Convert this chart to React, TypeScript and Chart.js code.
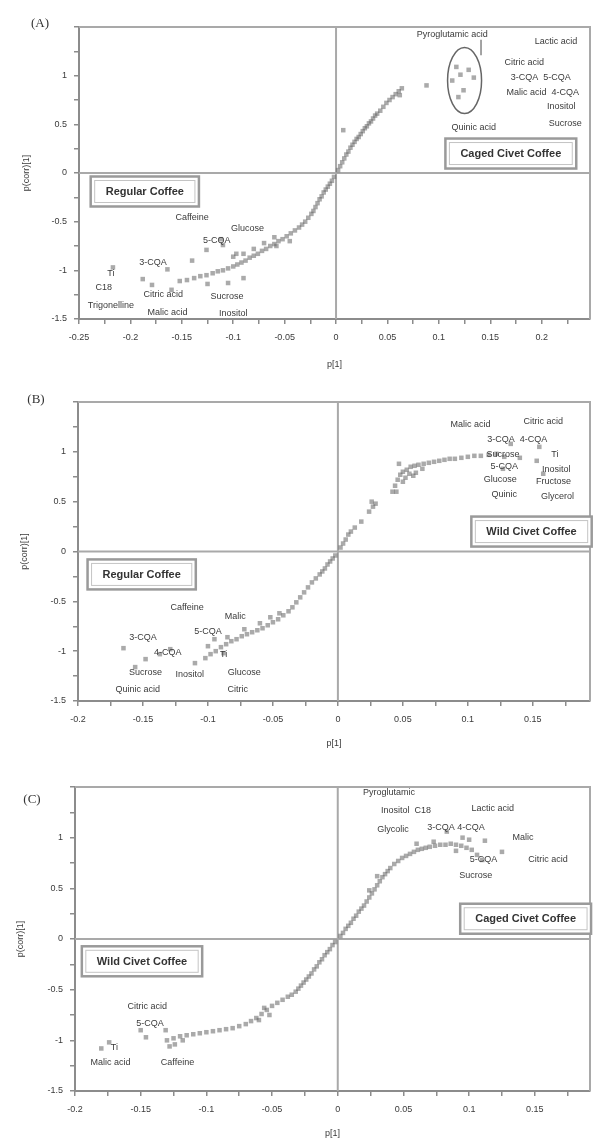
import React, { useEffect, useRef } from "react";
import { Chart, registerables } from "chart.js";
Chart.register(...registerables);

type Pt = [number, number];
type Lbl = [string, number, number];

// ---------- Panel A: Regular vs Caged Civet ----------
const panelALoadings: Pt[] = [
  [0.002, 0.03], [0.004, 0.07], [0.006, 0.11], [0.008, 0.15], [0.01, 0.19], [0.012, 0.22],
  [0.014, 0.26], [0.016, 0.29], [0.018, 0.32], [0.02, 0.35], [0.022, 0.37], [0.024, 0.4],
  [0.026, 0.43], [0.028, 0.46], [0.03, 0.48], [0.032, 0.51], [0.034, 0.53], [0.036, 0.56],
  [0.038, 0.59], [0.04, 0.61], [0.043, 0.64], [0.046, 0.68], [0.049, 0.72], [0.052, 0.75],
  [0.055, 0.78], [0.058, 0.81], [0.061, 0.84], [0.064, 0.87], [0.062, 0.8], [0.007, 0.44],
  [0.088, 0.9], [0.113, 0.95], [0.117, 1.09], [0.121, 1.01], [0.124, 0.85], [0.129, 1.06],
  [0.119, 0.78], [0.134, 0.98],
  [-0.002, -0.04], [-0.004, -0.08], [-0.006, -0.11], [-0.008, -0.14], [-0.01, -0.17],
  [-0.012, -0.2], [-0.014, -0.24], [-0.016, -0.27], [-0.018, -0.31], [-0.02, -0.35],
  [-0.022, -0.39], [-0.024, -0.42], [-0.027, -0.46], [-0.03, -0.5], [-0.033, -0.53],
  [-0.036, -0.56], [-0.04, -0.59], [-0.044, -0.62], [-0.048, -0.65], [-0.052, -0.68],
  [-0.056, -0.7], [-0.06, -0.73], [-0.064, -0.75], [-0.068, -0.78], [-0.072, -0.8],
  [-0.076, -0.83], [-0.08, -0.85], [-0.084, -0.87], [-0.088, -0.9], [-0.092, -0.92],
  [-0.096, -0.94], [-0.1, -0.96], [-0.105, -0.98], [-0.11, -1.0], [-0.115, -1.01],
  [-0.12, -1.03], [-0.126, -1.05], [-0.132, -1.06], [-0.138, -1.08], [-0.145, -1.1],
  [-0.152, -1.11], [-0.06, -0.66], [-0.07, -0.72], [-0.08, -0.78], [-0.09, -0.83],
  [-0.1, -0.86], [-0.11, -0.74], [-0.112, -0.68], [-0.126, -0.79], [-0.097, -0.83],
  [-0.14, -0.9], [-0.164, -0.99], [-0.179, -1.15], [-0.188, -1.09], [-0.217, -0.97],
  [-0.125, -1.14], [-0.105, -1.13], [-0.09, -1.08], [-0.16, -1.2], [-0.058, -0.75],
  [-0.045, -0.7],
];
const panelALabels: Lbl[] = [
  ["Pyroglutamic acid", 0.113, 1.42], ["Lactic acid", 0.214, 1.35],
  ["Citric acid", 0.183, 1.14], ["3-CQA  5-CQA", 0.199, 0.98],
  ["Malic acid  4-CQA", 0.201, 0.83], ["Inositol", 0.219, 0.68],
  ["Sucrose", 0.223, 0.51], ["Quinic acid", 0.134, 0.47],
  ["Caffeine", -0.14, -0.46], ["Glucose", -0.086, -0.57], ["5-CQA", -0.116, -0.69],
  ["3-CQA", -0.178, -0.92], ["Ti", -0.219, -1.03], ["C18", -0.226, -1.18],
  ["Trigonelline", -0.219, -1.36], ["Citric acid", -0.168, -1.25],
  ["Malic acid", -0.164, -1.43], ["Sucrose", -0.106, -1.27], ["Inositol", -0.1, -1.44],
];
const panelAGroups: Lbl[] = [
  ["Regular Coffee", -0.186, -0.19],
  ["Caged Civet Coffee", 0.17, 0.2],
];

// ---------- Panel B: Regular vs Wild Civet ----------
const panelBLoadings: Pt[] = [
  [0.002, 0.04], [0.004, 0.08], [0.006, 0.12], [0.008, 0.17], [0.01, 0.2], [0.013, 0.24],
  [0.018, 0.3], [0.024, 0.4], [0.027, 0.45], [0.029, 0.48], [0.026, 0.5],
  [0.042, 0.6], [0.044, 0.66], [0.046, 0.72], [0.048, 0.77],
  [0.05, 0.8], [0.053, 0.82], [0.056, 0.85], [0.059, 0.86], [0.062, 0.87], [0.066, 0.88],
  [0.07, 0.89], [0.074, 0.9], [0.078, 0.91], [0.082, 0.92], [0.086, 0.93], [0.09, 0.93],
  [0.095, 0.94], [0.1, 0.95], [0.105, 0.96], [0.11, 0.96], [0.116, 0.97], [0.122, 0.98],
  [0.045, 0.6], [0.05, 0.7], [0.055, 0.78], [0.06, 0.79], [0.047, 0.88], [0.065, 0.83],
  [0.128, 0.95], [0.133, 1.08], [0.14, 0.94], [0.153, 0.91], [0.155, 1.05], [0.127, 0.83],
  [0.158, 0.78], [0.052, 0.74], [0.058, 0.76],
  [-0.002, -0.04], [-0.004, -0.07], [-0.006, -0.1], [-0.008, -0.13], [-0.01, -0.17],
  [-0.012, -0.2], [-0.014, -0.23], [-0.017, -0.27], [-0.02, -0.31], [-0.023, -0.36],
  [-0.026, -0.41], [-0.029, -0.46], [-0.032, -0.51], [-0.035, -0.56], [-0.038, -0.6],
  [-0.042, -0.64], [-0.046, -0.68], [-0.05, -0.71], [-0.054, -0.74], [-0.058, -0.77],
  [-0.062, -0.79], [-0.066, -0.81], [-0.07, -0.83], [-0.074, -0.85], [-0.078, -0.88],
  [-0.082, -0.9], [-0.086, -0.93], [-0.09, -0.96], [-0.094, -1.0], [-0.098, -1.03],
  [-0.102, -1.07], [-0.06, -0.72], [-0.072, -0.78], [-0.085, -0.86], [-0.095, -0.88],
  [-0.088, -1.02], [-0.1, -0.95], [-0.129, -0.98], [-0.137, -1.03], [-0.148, -1.08],
  [-0.156, -1.16], [-0.11, -1.12], [-0.165, -0.97], [-0.045, -0.62], [-0.052, -0.66],
];
const panelBLabels: Lbl[] = [
  ["Malic acid", 0.102, 1.27], ["Citric acid", 0.158, 1.3], ["3-CQA  4-CQA", 0.138, 1.12],
  ["Sucrose", 0.127, 0.97], ["Ti", 0.167, 0.97], ["5-CQA", 0.128, 0.85],
  ["Inositol", 0.168, 0.82], ["Glucose", 0.125, 0.72], ["Fructose", 0.166, 0.7],
  ["Quinic", 0.128, 0.57], ["Glycerol", 0.169, 0.55],
  ["Caffeine", -0.116, -0.56], ["Malic", -0.079, -0.65], ["5-CQA", -0.1, -0.8],
  ["3-CQA", -0.15, -0.86], ["4-CQA", -0.131, -1.01], ["Ti", -0.088, -1.03],
  ["Sucrose", -0.148, -1.21], ["Inositol", -0.114, -1.23], ["Glucose", -0.072, -1.21],
  ["Quinic acid", -0.154, -1.38], ["Citric", -0.077, -1.38],
];
const panelBGroups: Lbl[] = [
  ["Regular Coffee", -0.151, -0.23],
  ["Wild Civet Coffee", 0.149, 0.2],
];

// ---------- Panel C: Wild vs Caged Civet ----------
const panelCLoadings: Pt[] = [
  [0.002, 0.03], [0.004, 0.06], [0.006, 0.1], [0.008, 0.13], [0.01, 0.16], [0.012, 0.2],
  [0.014, 0.23], [0.016, 0.27], [0.018, 0.3], [0.02, 0.33], [0.022, 0.37], [0.024, 0.41],
  [0.026, 0.45], [0.028, 0.49], [0.03, 0.53], [0.032, 0.57], [0.034, 0.61], [0.036, 0.64],
  [0.038, 0.67], [0.04, 0.7], [0.043, 0.74], [0.046, 0.77], [0.049, 0.8], [0.052, 0.82],
  [0.055, 0.84], [0.058, 0.86], [0.061, 0.88], [0.064, 0.89], [0.067, 0.9], [0.07, 0.91],
  [0.074, 0.92], [0.078, 0.93], [0.082, 0.93], [0.086, 0.94], [0.09, 0.93], [0.094, 0.92],
  [0.098, 0.9], [0.102, 0.88], [0.106, 0.83], [0.11, 0.78], [0.083, 1.06], [0.095, 1.0],
  [0.1, 0.98], [0.112, 0.97], [0.125, 0.86], [0.073, 0.96], [0.06, 0.94], [0.03, 0.62],
  [0.024, 0.48], [0.09, 0.87],
  [-0.002, -0.03], [-0.004, -0.06], [-0.006, -0.1], [-0.008, -0.13], [-0.01, -0.16],
  [-0.012, -0.2], [-0.014, -0.23], [-0.016, -0.27], [-0.018, -0.3], [-0.02, -0.34],
  [-0.022, -0.37], [-0.024, -0.4], [-0.026, -0.43], [-0.028, -0.46], [-0.03, -0.49],
  [-0.032, -0.52], [-0.035, -0.55], [-0.038, -0.57], [-0.042, -0.6], [-0.046, -0.63],
  [-0.05, -0.66], [-0.054, -0.7], [-0.058, -0.74], [-0.062, -0.78], [-0.066, -0.81],
  [-0.07, -0.84], [-0.075, -0.86], [-0.08, -0.88], [-0.085, -0.89], [-0.09, -0.9],
  [-0.095, -0.91], [-0.1, -0.92], [-0.105, -0.93], [-0.11, -0.94], [-0.115, -0.95],
  [-0.12, -0.96], [-0.125, -0.98], [-0.13, -1.0], [-0.052, -0.75], [-0.056, -0.68],
  [-0.06, -0.8], [-0.128, -1.06], [-0.131, -0.9], [-0.124, -1.04], [-0.146, -0.97],
  [-0.15, -0.9], [-0.174, -1.02], [-0.18, -1.08], [-0.118, -1.0],
];
const panelCLabels: Lbl[] = [
  ["Pyroglutamic", 0.039, 1.45], ["Inositol  C18", 0.052, 1.27], ["Lactic acid", 0.118, 1.29],
  ["Glycolic", 0.042, 1.08], ["3-CQA 4-CQA", 0.09, 1.1], ["Malic", 0.141, 1.0],
  ["5-CQA", 0.111, 0.78], ["Citric acid", 0.16, 0.78], ["Sucrose", 0.105, 0.63],
  ["Citric acid", -0.145, -0.67], ["5-CQA", -0.143, -0.83], ["Ti", -0.17, -1.07],
  ["Malic acid", -0.173, -1.22], ["Caffeine", -0.122, -1.22],
];
const panelCGroups: Lbl[] = [
  ["Wild Civet Coffee", -0.149, -0.22],
  ["Caged Civet Coffee", 0.143, 0.2],
];

const xTickStep = 0.025;
const yTickStep = 0.25;
const yMin = -1.5;
const yMax = 1.5;

type Panel = {
  letter: string;
  loadings: Pt[];
  labels: Lbl[];
  groups: Lbl[];
  xMin: number;
  xMax: number;
  height: number;
  plotLeft: number;
  plotTop: number;
  axisH: number;
  titlePadB: number;
  yTitlePad: number;
  letterX: number;
  letterY: number;
  ellipse?: { x: number; y: number; rx: number; ry: number };
  leader?: [number, number, number, number];
};

const panels: Panel[] = [
  {
    letter: "(A)", loadings: panelALoadings, labels: panelALabels, groups: panelAGroups,
    xMin: -0.25, xMax: 0.247, height: 378, plotLeft: 79, plotTop: 27, axisH: 59,
    titlePadB: 8, yTitlePad: 21, letterX: 40, letterY: 24,
    ellipse: { x: 0.125, y: 0.95, rx: 17, ry: 33 },
    leader: [0.141, 1.37, 0.141, 1.21],
  },
  {
    letter: "(B)", loadings: panelBLoadings, labels: panelBLabels, groups: panelBGroups,
    xMin: -0.2, xMax: 0.194, height: 378, plotLeft: 78, plotTop: 24, axisH: 55,
    titlePadB: 7, yTitlePad: 19, letterX: 36, letterY: 22,
  },
  {
    letter: "(C)", loadings: panelCLoadings, labels: panelCLabels, groups: panelCGroups,
    xMin: -0.2, xMax: 0.192, height: 386, plotLeft: 75, plotTop: 31, axisH: 51,
    titlePadB: 3, yTitlePad: 15, letterX: 32, letterY: 44,
  },
];

const FONT = "'Liberation Sans', Arial, sans-serif";
const isMult = (v: number, step: number) => Math.abs(v / step - Math.round(v / step)) < 1e-6;
const fmt = (v: number) => String(Number(v.toFixed(3)));

function overlay(p: Panel) {
  return {
    id: "overlay",
    beforeDatasetsDraw(chart: any) {
      const { ctx, chartArea: a, scales } = chart;
      const x0 = scales.x.getPixelForValue(0);
      const y0 = scales.y.getPixelForValue(0);
      ctx.save();
      ctx.strokeStyle = "#a9a9a9";
      ctx.lineWidth = 2;
      ctx.beginPath();
      ctx.moveTo(a.left, a.top);
      ctx.lineTo(a.right, a.top);
      ctx.lineTo(a.right, a.bottom);
      ctx.moveTo(x0, a.top);
      ctx.lineTo(x0, a.bottom);
      ctx.moveTo(a.left, y0);
      ctx.lineTo(a.right, y0);
      ctx.stroke();
      ctx.restore();
    },
    afterDatasetsDraw(chart: any) {
      const { ctx, scales } = chart;
      const sx = (v: number) => scales.x.getPixelForValue(v);
      const sy = (v: number) => scales.y.getPixelForValue(v);
      ctx.save();
      ctx.font = `9px ${FONT}`;
      ctx.fillStyle = "#3a3a3a";
      ctx.textAlign = "center";
      ctx.textBaseline = "middle";
      for (const [t, x, y] of p.labels) ctx.fillText(t, sx(x), sy(y));
      if (p.ellipse) {
        ctx.strokeStyle = "#666";
        ctx.lineWidth = 1.5;
        ctx.beginPath();
        ctx.ellipse(sx(p.ellipse.x), sy(p.ellipse.y), p.ellipse.rx, p.ellipse.ry, 0, 0, Math.PI * 2);
        ctx.stroke();
      }
      if (p.leader) {
        ctx.strokeStyle = "#666";
        ctx.lineWidth = 1.2;
        ctx.beginPath();
        ctx.moveTo(sx(p.leader[0]), sy(p.leader[1]));
        ctx.lineTo(sx(p.leader[2]), sy(p.leader[3]));
        ctx.stroke();
      }
      ctx.font = `bold 11px ${FONT}`;
      for (const [t, x, y] of p.groups) {
        const w = ctx.measureText(t).width + 30;
        const h = 30;
        const cx = sx(x);
        const cy = sy(y);
        ctx.fillStyle = "#fff";
        ctx.fillRect(cx - w / 2, cy - h / 2, w, h);
        ctx.strokeStyle = "#9a9a9a";
        ctx.lineWidth = 2.5;
        ctx.strokeRect(cx - w / 2, cy - h / 2, w, h);
        ctx.strokeStyle = "#c4c4c4";
        ctx.lineWidth = 1;
        ctx.strokeRect(cx - w / 2 + 4, cy - h / 2 + 4, w - 8, h - 8);
        ctx.fillStyle = "#333";
        ctx.fillText(t, cx, cy + 0.5);
      }
      ctx.font = `13px 'Liberation Serif', serif`;
      ctx.fillStyle = "#333";
      ctx.fillText(p.letter, p.letterX, p.letterY);
      ctx.restore();
    },
  };
}

function PanelChart({ p, top }: { p: Panel; top: number }) {
  const ref = useRef<HTMLCanvasElement | null>(null);
  useEffect(() => {
    if (!ref.current) return;
    const chart = new Chart(ref.current, {
      type: "scatter",
      data: {
        datasets: [
          {
            data: p.loadings.map(([x, y]) => ({ x, y })),
            pointStyle: "rect",
            pointRadius: 3.2,
            pointBorderWidth: 0,
            backgroundColor: "rgba(100,100,100,0.55)",
            borderColor: "rgba(100,100,100,0.55)",
          },
        ],
      },
      options: {
        animation: false,
        responsive: true,
        maintainAspectRatio: false,
        layout: { padding: { top: p.plotTop, right: 6, left: 0, bottom: 0 } },
        plugins: { legend: { display: false }, tooltip: { enabled: false } },
        scales: {
          x: {
            type: "linear",
            min: p.xMin,
            max: p.xMax,
            afterFit: (s: any) => { s.height = p.axisH; },
            border: { display: true, color: "#8c8c8c", width: 2 },
            grid: { display: true, drawOnChartArea: false, drawTicks: true, tickLength: 5, color: "#8c8c8c", lineWidth: 1.5 },
            ticks: {
              stepSize: xTickStep,
              includeBounds: false,
              autoSkip: false,
              maxRotation: 0,
              padding: 8,
              color: "#3a3a3a",
              font: { family: FONT, size: 9 },
              callback: (v: any) => (isMult(Number(v), 0.05) ? fmt(Number(v)) : ""),
            },
            title: {
              display: true,
              text: "p[1]",
              color: "#3a3a3a",
              font: { family: FONT, size: 9 },
              padding: { top: 0, bottom: p.titlePadB },
            },
          },
          y: {
            type: "linear",
            min: yMin,
            max: yMax,
            afterFit: (s: any) => { s.width = p.plotLeft; },
            border: { display: true, color: "#8c8c8c", width: 2 },
            grid: { display: true, drawOnChartArea: false, drawTicks: true, tickLength: 5, color: "#8c8c8c", lineWidth: 1.5 },
            ticks: {
              stepSize: yTickStep,
              includeBounds: false,
              autoSkip: false,
              padding: 7,
              color: "#3a3a3a",
              font: { family: FONT, size: 9 },
              callback: (v: any) => {
                const n = Number(v);
                return isMult(n, 0.5) && n < 1.4 ? fmt(n) : "";
              },
            },
            title: {
              display: true,
              text: "p(corr)[1]",
              color: "#3a3a3a",
              font: { family: FONT, size: 9 },
              padding: { top: p.yTitlePad, bottom: 0 },
            },
          },
        },
      },
      plugins: [overlay(p)],
    } as any);
    return () => chart.destroy();
  }, [p]);
  return (
    <div style={{ position: "absolute", left: 0, top, width: 596, height: p.height }}>
      <canvas ref={ref} />
    </div>
  );
}

export default function App() {
  const tops = [0, 378, 756];
  return (
    <div style={{ position: "fixed", left: 0, top: 0, width: 596, height: 1142, background: "#fff" }}>
      {panels.map((p, i) => (
        <PanelChart key={p.letter} p={p} top={tops[i]} />
      ))}
    </div>
  );
}
